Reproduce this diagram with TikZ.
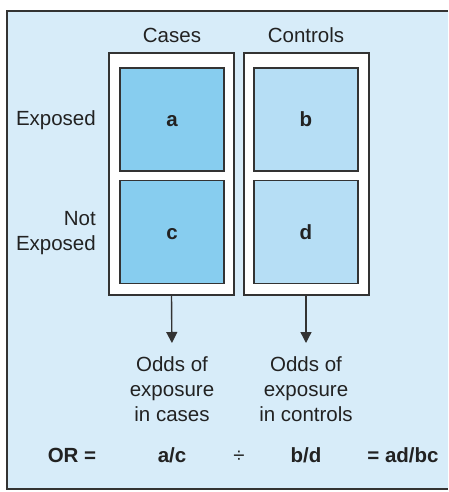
\documentclass[tikz,border=0pt]{standalone}
\usepackage{fontspec}
\setmainfont{Liberation Sans}
\usetikzlibrary{arrows.meta}
\definecolor{panel}{HTML}{D7ECF9}
\definecolor{edge}{HTML}{333333}
\definecolor{ink}{HTML}{222222}
\definecolor{cases}{HTML}{87CDEF}
\definecolor{ctrls}{HTML}{B6DEF5}

\begin{document}
\begin{tikzpicture}[x=1pt,y=-1pt,
  lab/.style={font=\fontsize{20.5}{25}\selectfont,text=ink,inner sep=0pt},
  num/.style={font=\bfseries\fontsize{20.5}{25}\selectfont,text=ink,inner sep=0pt},
  col/.style={draw=edge,line width=2pt,fill=white,minimum width=125pt,minimum height=242pt,inner sep=0pt},
  cell/.style={draw=edge,line width=1.6pt,minimum width=104pt,minimum height=103pt,inner sep=0pt,
    text height=14pt,text depth=0pt,font=\bfseries\fontsize{20.5}{25}\selectfont,text=ink},
  arr/.style={draw=edge,line width=1.4pt,-{Triangle[width=11pt,length=11pt]},shorten >=13pt}]
\useasboundingbox (0,0) rectangle (448,492);
\fill[panel] (7,11) rectangle (448,489);
\draw[edge,line width=1.5pt] (448,11) -- (7,11) -- (7,489) -- (448,489);
% the two columns
\node[col] (casebox) at (171.5,174) {};
\node[col] (ctrlbox) at (306,174) {};
\node[lab,anchor=base] (casehead) at (172,43) {Cases};
\node[lab,anchor=base] (ctrlhead) at (306,43) {Controls};
\node[cell,fill=cases] (a) at (172,119.5) {a};
\node[cell,fill=cases] (c) at (172,232) {c};
\node[cell,fill=ctrls] (b) at (306,119.5) {b};
\node[cell,fill=ctrls] (d) at (306,232) {d};
% row labels
\node[lab,anchor=base east] (expo) at (96,125) {Exposed};
\node[lab,anchor=east,align=right] (notexpo) at (96,233) {Not\\Exposed};
% odds below each column
\node[lab,anchor=north,align=center] (oddscase) at (172,356) {Odds of\\exposure\\in cases};
\node[lab,anchor=north,align=center] (oddsctrl) at (306,356) {Odds of\\exposure\\in controls};
\draw[arr] (casebox.south) -- (oddscase.north);
\draw[arr] (ctrlbox.south) -- (oddsctrl.north);
% the ratio
\node[num,anchor=base] (orlab) at (72,462) {OR =};
\node[num,anchor=base] (ac) at (172,462) {a/c};
\node[lab,anchor=base] (divsign) at (239,462) {÷};
\node[num,anchor=base] (bd) at (306,462) {b/d};
\node[num,anchor=base] (result) at (403,462) {= ad/bc};
\end{tikzpicture}
\end{document}
